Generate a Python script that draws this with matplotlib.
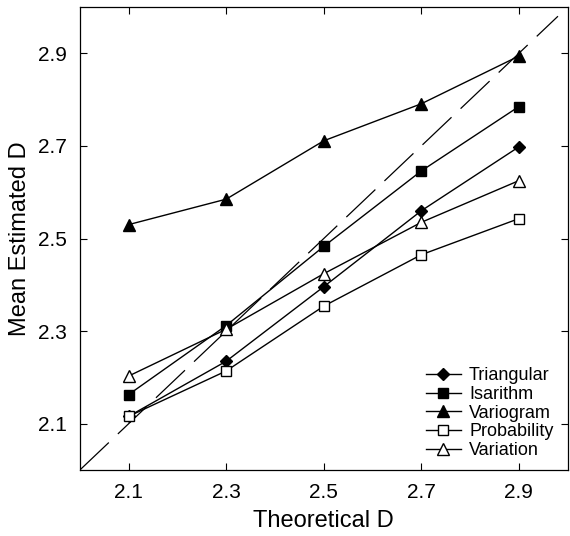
import matplotlib
matplotlib.use('Agg')
import matplotlib.pyplot as plt

# theoretical vs mean estimated fractal dimension
theoretical = [2.1, 2.3, 2.5, 2.7, 2.9]
triangular = [2.116, 2.235, 2.396, 2.560, 2.698]
isarithm = [2.163, 2.312, 2.483, 2.646, 2.785]
variogram = [2.530, 2.585, 2.711, 2.791, 2.894]
probability = [2.116, 2.214, 2.354, 2.465, 2.543]
variation = [2.203, 2.304, 2.424, 2.535, 2.625]
ticks = [2.1, 2.3, 2.5, 2.7, 2.9]

plt.rcParams['font.family'] = ['Liberation Sans', 'DejaVu Sans']

fig = plt.figure(figsize=(5.7, 5.36), dpi=100)
ax = fig.add_axes([0.140, 0.123, 0.856, 0.864])

# 1:1 reference line
ax.plot([2.0, 2.98], [2.0, 2.98], color='black', lw=0.9, dashes=(32, 10))

style = dict(color='black', lw=1.0)
ax.plot(theoretical, triangular, marker='D', ms=6, mfc='black', label='Triangular', **style)
ax.plot(theoretical, isarithm, marker='s', ms=7, mfc='black', label='Isarithm', **style)
ax.plot(theoretical, variogram, marker='^', ms=8.5, mfc='black', label='Variogram', **style)
ax.plot(theoretical, probability, marker='s', ms=7, mfc='white', label='Probability', **style)
ax.plot(theoretical, variation, marker='^', ms=8.5, mfc='white', label='Variation', **style)

ax.set_xlim(2.0, 3.0)
ax.set_ylim(2.0, 3.0)
ax.set_xticks(ticks)
ax.set_yticks(ticks)
ax.set_xticklabels(['2.1', '2.3', '2.5', '2.7', '2.9'])
ax.set_yticklabels(['2.1', '2.3', '2.5', '2.7', '2.9'])
ax.tick_params(direction='in', top=True, right=True, labelsize=15, length=5, width=0.8, pad=9)
for s in ax.spines.values():
    s.set_linewidth(0.9)

ax.set_xlabel('Theoretical D', fontsize=17, labelpad=6)
ax.set_ylabel('Mean Estimated D', fontsize=17, labelpad=5)

ax.legend(loc='lower right', frameon=False, fontsize=13, handlelength=1.95,
          labelspacing=0.1, handletextpad=0.45, borderaxespad=0.2,
          bbox_to_anchor=(0.993, 0.0))

fig.savefig('out.png', dpi=100)
